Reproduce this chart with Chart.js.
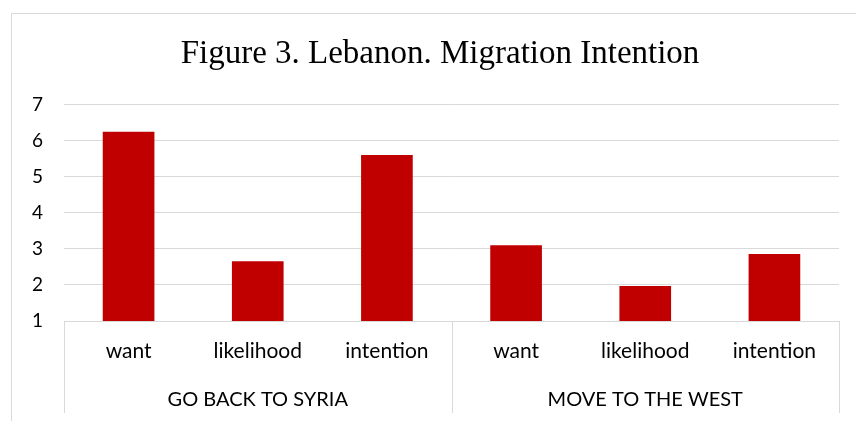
<!DOCTYPE html>
<html>
<head>
<meta charset="utf-8">
<script src="https://cdn.jsdelivr.net/npm/chart.js@4/dist/chart.umd.min.js"></script>
<style>
  html, body { margin: 0; padding: 0; background: #fff; overflow: hidden; }
  #wrap { position: relative; width: 856px; height: 421px; overflow: hidden; }
  #frame { position: absolute; left: 11px; top: 13px; width: 900px; height: 500px; border: 1px solid #d9d9d9; box-sizing: border-box; }
  #holder { position: absolute; left: 0; top: 0; width: 880px; height: 421px; }
</style>
</head>
<body>
<div id="wrap">
  <div id="frame"></div>
  <div id="holder"><canvas id="chart"></canvas></div>
</div>
<script>
// Chart data
let titleText = "Figure 3. Lebanon. Migration Intention";
let subCategories = ["want", "likelihood", "intention", "want", "likelihood", "intention"];
let groupLabels = ["GO BACK TO SYRIA", "MOVE TO THE WEST"];
let groupSize = 3;
let values = [6.25, 2.66, 5.6, 3.1, 1.97, 2.86];
let yMin = 1;
let yMax = 7;

let gridColor = "#d9d9d9";
let labelFont = "Lato, 'Open Sans', sans-serif";

// Draw the vertical separators between the two category groups
let groupLines = {
    id: "groupLines",
    afterDraw(chart) {
        let ctx = chart.ctx;
        let xScale = chart.scales.x;
        let x2Scale = chart.scales.x2;
        let area = chart.chartArea;
        let xs = [area.left];
        for (let g = 1; g < groupLabels.length; g++) {
            let i = g * groupSize;
            xs.push((xScale.getPixelForValue(i - 1) + xScale.getPixelForValue(i)) / 2);
        }
        xs.push(area.right);
        ctx.save();
        ctx.strokeStyle = gridColor;
        ctx.lineWidth = 1;
        for (let x of xs) {
            let px = Math.round(x) + 0.5;
            ctx.beginPath();
            ctx.moveTo(px, area.bottom);
            ctx.lineTo(px, x2Scale.bottom);
            ctx.stroke();
        }
        ctx.restore();
    }
};

let ctx = document.getElementById("chart").getContext("2d");
let chart = new Chart(ctx, {
    type: "bar",
    data: {
        labels: subCategories,
        datasets: [{
            data: values,
            backgroundColor: "#c00000",
            borderWidth: 0,
            barPercentage: 0.4,
            categoryPercentage: 1.0
        }]
    },
    options: {
        responsive: true,
        maintainAspectRatio: false,
        animation: false,
        layout: { padding: { top: 0, left: 0, right: 0, bottom: 8 } },
        plugins: {
            legend: { display: false },
            tooltip: { enabled: false },
            title: {
                display: true,
                text: titleText,
                color: "#000",
                font: { family: "'Liberation Serif', serif", size: 33, weight: "normal" },
                padding: { top: 35, bottom: 30 }
            }
        },
        scales: {
            y: {
                min: yMin,
                max: yMax,
                ticks: { stepSize: 1, color: "#000", font: { family: labelFont, size: 19 }, padding: 21 },
                grid: { color: gridColor, drawTicks: false },
                border: { display: false },
                afterFit(scale) { scale.width = 64; }
            },
            // empty right axis only reserves space, so the title stays centred on the frame
            yRight: {
                type: "linear",
                position: "right",
                ticks: { display: false },
                grid: { display: false, drawTicks: false },
                border: { display: false },
                afterFit(scale) { scale.width = 41; }
            },
            x: {
                position: "bottom",
                ticks: { color: "#000", font: { family: labelFont, size: 21 }, padding: 18, maxRotation: 0 },
                grid: { display: false, drawTicks: false },
                border: { display: true, color: gridColor },
                afterFit(scale) { scale.height = 46; }
            },
            x2: {
                type: "category",
                position: "bottom",
                labels: groupLabels,
                offset: true,
                ticks: { color: "#000", font: { family: labelFont, size: 20 }, padding: 21, maxRotation: 0 },
                grid: { display: false, drawTicks: false },
                border: { display: false },
                afterFit(scale) { scale.height = 46; }
            }
        }
    },
    plugins: [groupLines]
});
</script>
</body>
</html>
